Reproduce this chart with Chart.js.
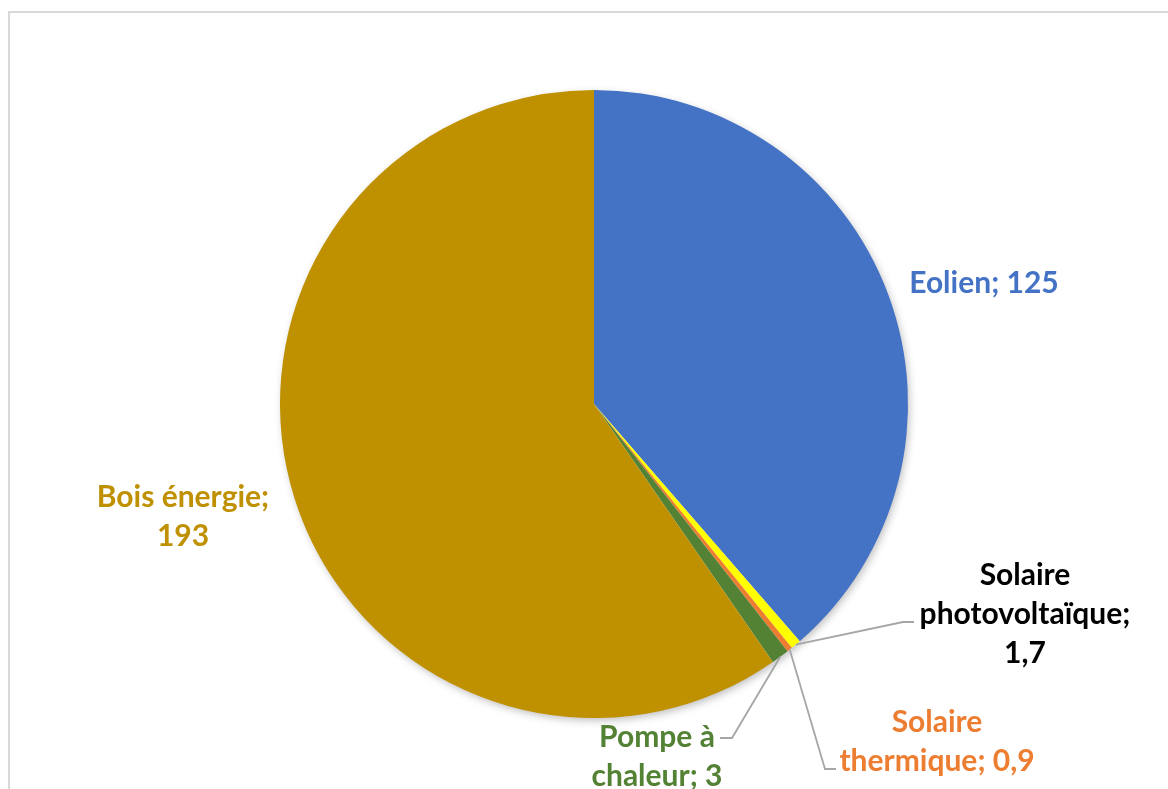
<!DOCTYPE html>
<html lang="fr">
<head>
<meta charset="utf-8">
<title>Production d'énergie renouvelable</title>
<script src="https://cdn.jsdelivr.net/npm/chart.js@4/dist/chart.umd.min.js"></script>
<style>
  html, body { margin: 0; padding: 0; background: #fff; overflow: hidden; }
  #wrap { position: relative; width: 1168px; height: 789px; }
  #frame {
    position: absolute; left: 8px; top: 11px; width: 1300px; height: 900px;
    border: 2px solid #d9d9d9; box-sizing: border-box;
  }
  #chart { position: absolute; left: 0; top: 0; }
</style>
</head>
<body>
<div id="wrap">
  <div id="frame"></div>
  <canvas id="chart" width="1168" height="789"></canvas>
</div>
<script>
const categories = ['Eolien', 'Solaire photovoltaïque', 'Solaire thermique', 'Pompe à chaleur', 'Bois énergie'];
const values = [125, 1.7, 0.9, 3, 193];
const sliceColors = ['#4472C4', '#FFFF00', '#ED7D31', '#548235', '#BF9000'];
const labelColors = ['#4472C4', '#000000', '#ED7D31', '#548235', '#BF9000'];

// where each data label sits, how wide it may wrap, and its leader line
const placements = [
    { x: 984, y: 283, wrap: 400 },
    { x: 1025, y: 575, wrap: 230, leader: [[903, 622], [914, 622]] },
    { x: 937, y: 722, wrap: 215, leader: [[825, 769], [836, 769]] },
    { x: 657, y: 737, wrap: 150, leader: [[732, 738], [720, 738]] },
    { x: 183, y: 497, wrap: 190 }
];

const FONT = 'bold 30px Lato, "Open Sans", sans-serif';
const LINE_H = 39;

function fmt(v) {
    return String(v).replace('.', ',');
}

function wrapText(ctx, text, maxWidth) {
    const words = text.split(' ');
    const lines = [];
    let cur = '';
    words.forEach(w => {
        const test = cur ? cur + ' ' + w : w;
        if (cur && ctx.measureText(test).width > maxWidth) {
            lines.push(cur);
            cur = w;
        } else {
            cur = test;
        }
    });
    if (cur) lines.push(cur);
    return lines;
}

// soft drop shadow under the whole pie
const pieShadow = {
    id: 'pieShadow',
    beforeDatasetsDraw(chart) {
        const arc = chart.getDatasetMeta(0).data[0];
        if (!arc) return;
        const { x, y, outerRadius } = arc.getProps(['x', 'y', 'outerRadius'], true);
        const ctx = chart.ctx;
        ctx.save();
        ctx.shadowColor = 'rgba(0,0,0,0.28)';
        ctx.shadowBlur = 9;
        ctx.shadowOffsetX = 2;
        ctx.shadowOffsetY = 3;
        ctx.fillStyle = '#ffffff';
        ctx.beginPath();
        ctx.arc(x, y, outerRadius - 1, 0, Math.PI * 2);
        ctx.fill();
        ctx.restore();
    }
};

const pieLabels = {
    id: 'pieLabels',
    afterDatasetsDraw(chart) {
        const ctx = chart.ctx;
        const meta = chart.getDatasetMeta(0);
        ctx.save();
        ctx.font = FONT;
        ctx.textAlign = 'center';
        ctx.textBaseline = 'middle';
        meta.data.forEach((arc, i) => {
            const p = placements[i];
            const { x, y, startAngle, endAngle, outerRadius } =
                arc.getProps(['x', 'y', 'startAngle', 'endAngle', 'outerRadius'], true);
            if (p.leader) {
                const mid = (startAngle + endAngle) / 2;
                ctx.strokeStyle = '#a6a6a6';
                ctx.lineWidth = 1.8;
                ctx.beginPath();
                ctx.moveTo(x + Math.cos(mid) * outerRadius, y + Math.sin(mid) * outerRadius);
                p.leader.forEach(pt => ctx.lineTo(pt[0], pt[1]));
                ctx.stroke();
            }
            const text = categories[i] + '; ' + fmt(values[i]);
            const lines = wrapText(ctx, text, p.wrap);
            ctx.fillStyle = labelColors[i];
            lines.forEach((line, k) => ctx.fillText(line, p.x, p.y + k * LINE_H));
        });
        ctx.restore();
    }
};

new Chart(document.getElementById('chart'), {
    type: 'pie',
    data: {
        labels: categories,
        datasets: [{
            data: values,
            backgroundColor: sliceColors,
            borderWidth: 0
        }]
    },
    options: {
        responsive: false,
        animation: false,
        layout: {
            padding: { top: 90, bottom: 71, left: 280, right: 260 }
        },
        plugins: {
            legend: { display: false },
            tooltip: { enabled: false }
        }
    },
    plugins: [pieShadow, pieLabels]
});
</script>
</body>
</html>
